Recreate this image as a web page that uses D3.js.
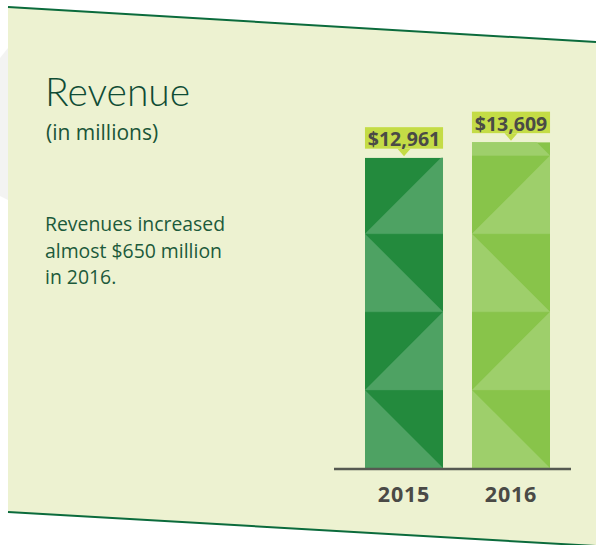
<!DOCTYPE html>
<html>
<head>
<meta charset="utf-8">
<script src="https://cdn.jsdelivr.net/npm/d3@7"></script>
<style>
  body { margin: 0; background: #fff; }
  svg { display: block; }
  text { font-family: "Open Sans", "Noto Sans", sans-serif; }
</style>
</head>
<body>
<script>
var width = 596,
    height = 545;

// values
var years = ["2015", "2016"];
var revenue = [12961, 13609];
var valueLabels = ["$12,961", "$13,609"];
var noteLines = ["Revenues increased", "almost $650 million", "in 2016."];

var palette = {
  "2015": { dark: "#238a3d", light: "#4ea263" },
  "2016": { dark: "#88c44a", light: "#9ecf6b" }
};

var svg = d3.select("body").append("svg")
    .attr("width", width)
    .attr("height", height);

// slanted panel
svg.append("polygon")
    .attr("points", "0,58 8,48 8,200 0,196")
    .style("fill", "#f3f3f2");

svg.append("polygon")
    .attr("points", "8,7 596,42 596,546 8,512")
    .style("fill", "#edf2d1");

svg.append("line")
    .attr("x1", 8).attr("y1", 7).attr("x2", 596).attr("y2", 42)
    .style("stroke", "#0b6b3c").style("stroke-width", 2);

svg.append("line")
    .attr("x1", 8).attr("y1", 512).attr("x2", 596).attr("y2", 546)
    .style("stroke", "#0b6b3c").style("stroke-width", 2);

// headings
svg.append("text")
    .attr("x", 45).attr("y", 105.5)
    .style("font-family", "Lato, 'Open Sans', sans-serif")
    .style("font-size", "39px")
    .style("font-weight", 300)
    .style("fill", "#0f4c35")
    .text("Revenue");

svg.append("text")
    .attr("x", 46).attr("y", 140)
    .style("font-size", "21px")
    .style("fill", "#1a5538")
    .text("(in millions)");

svg.append("g").selectAll("text")
    .data(noteLines)
    .enter().append("text")
    .attr("x", 45)
    .attr("y", function(d, i) { return 231 + i * 26.5; })
    .style("font-size", "19.4px")
    .style("fill", "#1c5a3b")
    .text(function(d) { return d; });

// scales
var x = d3.scaleBand()
    .domain(years)
    .range([361, 554])
    .paddingInner(0.27)
    .paddingOuter(0.037);

var y = d3.scaleLinear()
    .domain([0, 14000])
    .range([468, 132.8]);

var data = years.map(function(yr, i) {
  return { year: yr, value: revenue[i], label: valueLabels[i] };
});

var defs = svg.append("defs");

var bars = svg.selectAll(".bar")
    .data(data)
    .enter().append("g")
    .attr("class", "bar");

bars.each(function(d, i) {
  var g = d3.select(this),
      x0 = x(d.year),
      x1 = x0 + x.bandwidth(),
      top = y(d.value),
      bottom = y(0),
      s = x.bandwidth();

  defs.append("clipPath")
      .attr("id", "clip" + i)
    .append("rect")
      .attr("x", x0).attr("y", top)
      .attr("width", s).attr("height", bottom - top);

  var inner = g.append("g").attr("clip-path", "url(#clip" + i + ")");

  inner.append("rect")
      .attr("x", x0).attr("y", top)
      .attr("width", s).attr("height", bottom - top)
      .style("fill", palette[d.year].dark);

  // stacked square tiles, each split on a diagonal
  for (var k = 0; bottom - k * s > top; k++) {
    var yb = bottom - k * s,
        yt = yb - s,
        pts = (k % 2 === 0)
          ? [[x0, yt], [x0, yb], [x1, yb]]
          : [[x0, yb], [x1, yb], [x1, yt]];
    inner.append("polygon")
        .attr("points", pts.map(function(p) { return p.join(","); }).join(" "))
        .style("fill", palette[d.year].light);
    if (k > 0) {
      inner.append("line")
          .attr("x1", x0).attr("x2", x1)
          .attr("y1", yb).attr("y2", yb)
          .style("stroke", palette[d.year].light)
          .style("stroke-opacity", 0.45)
          .style("stroke-width", 1);
    }
  }

  // value callout
  var boxBottom = top - 9,
      boxH = 21.5,
      cx = x0 + s / 2;

  g.append("rect")
      .attr("x", x0).attr("y", boxBottom - boxH)
      .attr("width", s).attr("height", boxH)
      .style("fill", "#c4dc46");

  g.append("polygon")
      .attr("points", [[cx - 6.5, boxBottom], [cx + 6.5, boxBottom], [cx, boxBottom + 7.5]]
        .map(function(p) { return p.join(","); }).join(" "))
      .style("fill", "#c4dc46");

  g.append("text")
      .attr("x", cx).attr("y", boxBottom - 2.6)
      .attr("text-anchor", "middle")
      .style("font-size", "19.5px")
      .style("font-weight", 700)
      .style("fill", "#4a4a46")
      .text(d.label);
});

// baseline
svg.append("line")
    .attr("x1", 334).attr("x2", 571)
    .attr("y1", 469).attr("y2", 469)
    .style("stroke", "#555951")
    .style("stroke-width", 2.5);

var xAxis = d3.axisBottom(x).tickSize(0);

var axisG = svg.append("g")
    .attr("transform", "translate(0,501.5)")
    .call(xAxis);

axisG.select(".domain").remove();
axisG.selectAll("text")
    .attr("y", 0).attr("dy", null)
    .style("font-family", "'Open Sans', sans-serif")
    .style("font-size", "21.5px")
    .style("font-weight", 700)
    .style("letter-spacing", "0.8px")
    .style("fill", "#4a4a46");
</script>
</body>
</html>
